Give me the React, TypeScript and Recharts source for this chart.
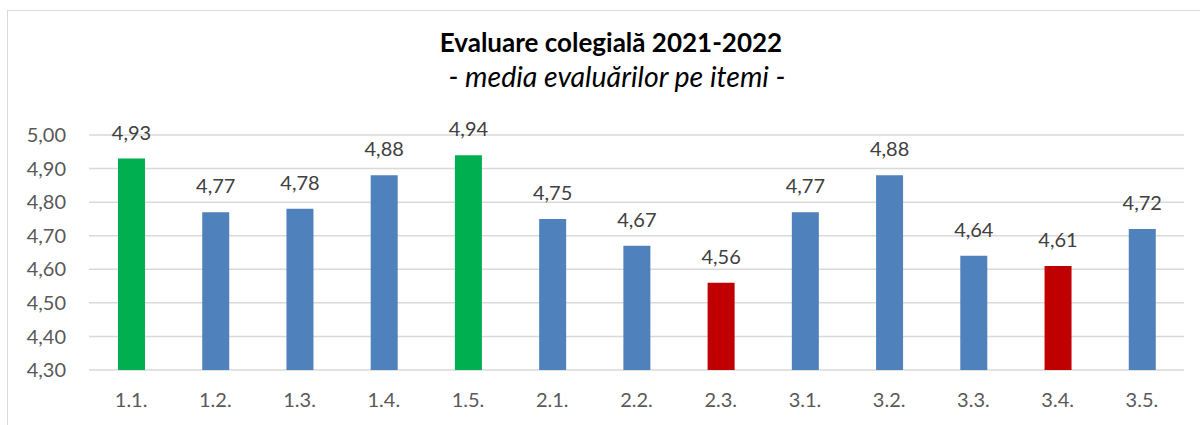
import { BarChart, Bar, XAxis, YAxis, CartesianGrid, LabelList, Cell } from "recharts";

const items = ["1.1.", "1.2.", "1.3.", "1.4.", "1.5.", "2.1.", "2.2.", "2.3.", "3.1.", "3.2.", "3.3.", "3.4.", "3.5."];
const scores = [4.93, 4.77, 4.78, 4.88, 4.94, 4.75, 4.67, 4.56, 4.77, 4.88, 4.64, 4.61, 4.72];
const barColors = ["#00b050", "#4f81bd", "#4f81bd", "#4f81bd", "#00b050", "#4f81bd", "#4f81bd", "#c00000", "#4f81bd", "#4f81bd", "#4f81bd", "#c00000", "#4f81bd"];
const yTicks = [4.3, 4.4, 4.5, 4.6, 4.7, 4.8, 4.9, 5.0];

const data = items.map((item, i) => ({ item, score: scores[i] }));

const FONT = "Lato, 'Open Sans', sans-serif";
const fmt = (v: number) => v.toFixed(2).replace(".", ",");

export default function App() {
  return (
    <div style={{ position: "absolute", left: 0, top: 0, width: 1200, height: 425, background: "#fff", overflow: "hidden", fontFamily: FONT }}>
      {/* chart frame */}
      <div style={{ position: "absolute", left: 7, top: 10, width: 1210, height: 440, border: "1px solid #d9d9d9" }} />
      <BarChart
        width={1200}
        height={425}
        data={data}
        margin={{ top: 135, right: 16, bottom: 25, left: 0 }}
        style={{ position: "absolute", left: 0, top: 0 }}
      >
        <CartesianGrid vertical={false} stroke="#d9d9d9" strokeWidth={1.5} />
        <XAxis
          dataKey="item"
          height={30}
          tickLine={false}
          axisLine={false}
          tickSize={0}
          tickMargin={23}
          tick={{ fontSize: 20, fill: "#595959", fontFamily: FONT }}
        />
        <YAxis
          domain={[4.3, 5]}
          ticks={yTicks}
          width={89}
          tickLine={false}
          axisLine={false}
          tickSize={0}
          tickMargin={23}
          tickFormatter={fmt}
          tick={{ fontSize: 20, fill: "#595959", fontFamily: FONT }}
        />
        <Bar dataKey="score" barSize={27} isAnimationActive={false}>
          {data.map((d, i) => (
            <Cell key={d.item} fill={barColors[i]} />
          ))}
          <LabelList
            dataKey="score"
            position="top"
            offset={19}
            formatter={(v: any) => fmt(Number(v))}
            style={{ fontSize: 20, fill: "#404040", fontFamily: FONT }}
          />
        </Bar>
      </BarChart>
      <svg width={1200} height={100} style={{ position: "absolute", left: 0, top: 0, pointerEvents: "none" }}>
        <text x={611} y={52} textAnchor="middle" fontSize={26} fontWeight="bold" fill="#000" fontFamily={FONT}>
          Evaluare colegială 2021-2022
        </text>
        <text x={617} y={87} textAnchor="middle" fontSize={28.5} fontStyle="italic" fill="#000" fontFamily={FONT}>
          - media evaluărilor pe itemi -
        </text>
      </svg>
    </div>
  );
}
